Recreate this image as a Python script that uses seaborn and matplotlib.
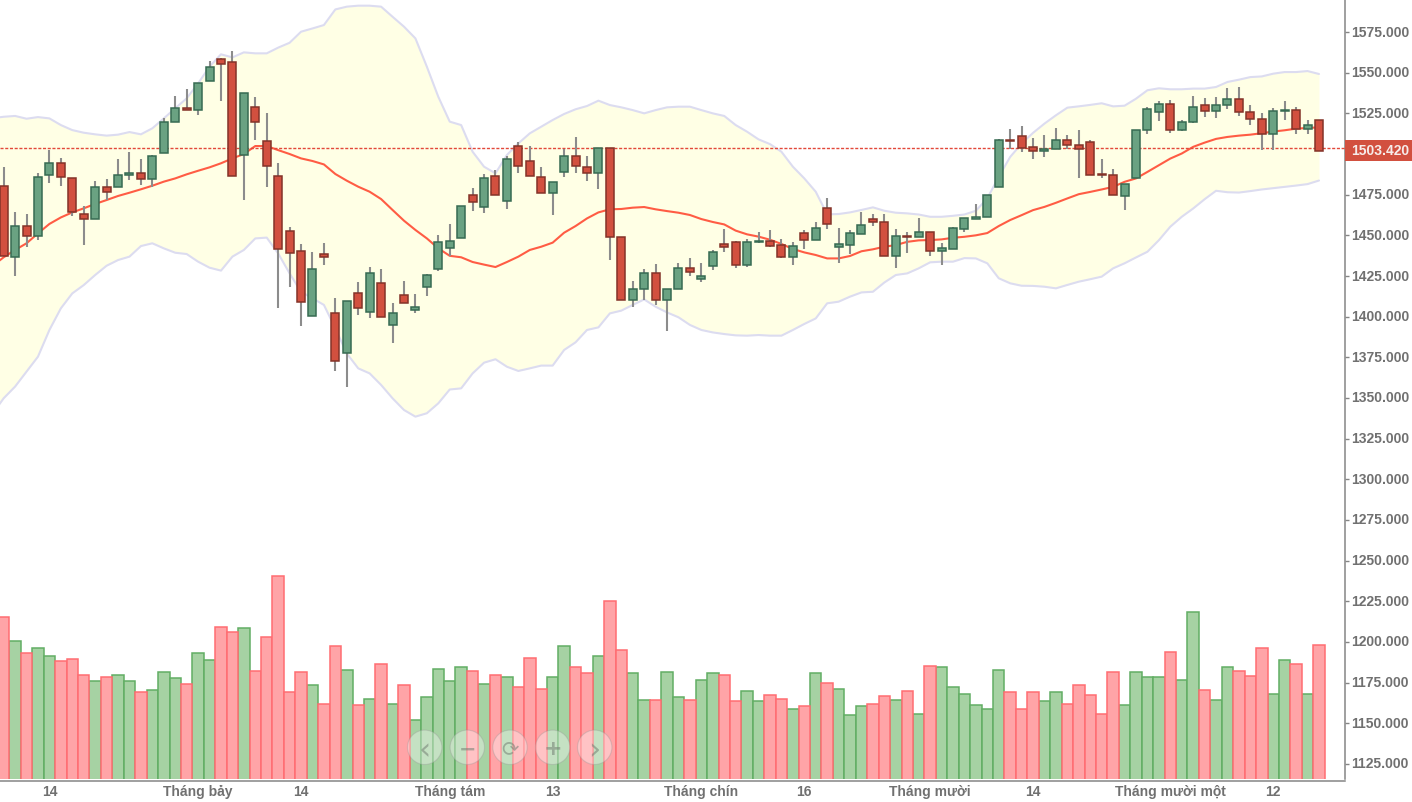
import matplotlib
matplotlib.use("Agg")
import matplotlib.pyplot as plt
from matplotlib.patches import Circle, Rectangle
from matplotlib.transforms import ScaledTranslation
import numpy as np
import pandas as pd
import seaborn as sns

opens = [1480.5, 1436.7, 1455.9, 1449.8, 1487.3, 1494.3, 1485.0, 1462.9, 1460.2, 1479.7,
         1479.5, 1487.3, 1488.1, 1484.8, 1500.4, 1519.5, 1528.3, 1527.3, 1544.9, 1558.2,
         1556.6, 1499.6, 1528.9, 1508.0, 1486.7, 1452.9, 1440.6, 1400.6, 1438.3, 1402.0,
         1377.4, 1414.3, 1402.8, 1420.5, 1395.1, 1413.5, 1404.1, 1418.2, 1429.1, 1442.0,
         1448.1, 1475.0, 1467.2, 1486.7, 1471.1, 1505.1, 1495.9, 1485.8, 1475.8, 1488.7,
         1499.0, 1492.0, 1488.1, 1503.5, 1449.0, 1410.4, 1416.8, 1426.6, 1410.4, 1416.8,
         1429.7, 1423.3, 1431.1, 1444.5, 1445.9, 1431.9, 1445.7, 1446.7, 1443.8, 1436.5,
         1451.4, 1447.1, 1466.6, 1442.6, 1444.2, 1451.0, 1459.8, 1458.2, 1437.3, 1449.7,
         1448.7, 1452.0, 1440.3, 1441.8, 1454.0, 1460.2, 1461.2, 1479.6, 1508.9, 1511.1,
         1504.2, 1501.9, 1503.1, 1508.7, 1505.6, 1507.2, 1487.6, 1487.2, 1474.1, 1485.5,
         1514.8, 1525.6, 1531.0, 1514.8, 1519.5, 1530.3, 1526.3, 1530.1, 1534.0, 1525.6,
         1521.8, 1512.6, 1526.3, 1527.3, 1515.6, 1520.9]
closes = [1437.3, 1455.9, 1449.6, 1485.8, 1494.3, 1485.8, 1464.1, 1460.2, 1479.7, 1476.4,
          1487.3, 1488.3, 1484.8, 1499.0, 1519.7, 1528.1, 1527.3, 1543.4, 1553.5, 1555.5,
          1486.7, 1537.3, 1519.5, 1492.8, 1441.4, 1438.9, 1408.8, 1429.1, 1436.5, 1372.9,
          1409.6, 1405.1, 1426.6, 1399.8, 1402.0, 1408.2, 1406.1, 1425.8, 1445.9, 1446.7,
          1468.2, 1470.3, 1485.0, 1475.0, 1496.7, 1492.8, 1486.5, 1475.8, 1482.8, 1499.0,
          1492.6, 1488.1, 1503.5, 1449.0, 1410.4, 1416.8, 1426.6, 1410.4, 1416.8, 1429.7,
          1427.2, 1425.2, 1439.7, 1442.6, 1431.9, 1445.9, 1446.7, 1443.4, 1436.5, 1443.6,
          1447.1, 1454.5, 1457.2, 1444.5, 1451.2, 1456.5, 1458.0, 1437.3, 1449.7, 1448.7,
          1452.2, 1440.3, 1442.2, 1454.2, 1460.4, 1461.2, 1475.1, 1508.9, 1507.9, 1504.0,
          1501.9, 1503.3, 1508.9, 1505.6, 1503.3, 1487.2, 1487.2, 1474.9, 1481.3, 1515.0,
          1527.9, 1531.0, 1514.8, 1519.5, 1528.7, 1526.3, 1530.1, 1534.0, 1525.6, 1521.8,
          1512.6, 1526.5, 1527.3, 1515.4, 1518.1, 1501.9]
highs = [1492.2, 1464.5, 1462.9, 1488.1, 1502.4, 1497.3, 1485.0, 1468.2, 1483.6, 1484.4,
         1496.7, 1501.2, 1496.7, 1499.6, 1521.9, 1535.9, 1539.8, 1543.4, 1557.4, 1558.8,
         1563.5, 1537.3, 1535.2, 1525.0, 1494.3, 1455.3, 1444.5, 1439.9, 1445.0, 1411.3,
         1409.6, 1421.5, 1430.7, 1429.0, 1408.2, 1422.1, 1413.7, 1426.0, 1450.0, 1456.8,
         1468.2, 1479.1, 1487.5, 1490.1, 1499.0, 1507.6, 1505.1, 1492.2, 1482.8, 1502.9,
         1510.6, 1499.0, 1503.5, 1503.5, 1449.0, 1422.1, 1429.1, 1432.4, 1416.8, 1432.8,
         1436.2, 1432.9, 1440.8, 1453.9, 1446.7, 1447.5, 1452.2, 1453.3, 1447.7, 1446.1,
         1453.1, 1458.4, 1473.1, 1454.7, 1453.3, 1464.5, 1462.9, 1463.1, 1453.6, 1452.2,
         1460.8, 1452.2, 1445.4, 1455.3, 1460.8, 1469.2, 1475.1, 1509.5, 1515.6, 1517.3,
         1509.9, 1511.5, 1515.8, 1511.9, 1515.0, 1508.9, 1496.8, 1490.5, 1481.3, 1515.0,
         1529.0, 1532.6, 1533.4, 1521.1, 1535.9, 1534.2, 1535.0, 1540.4, 1541.2, 1530.3,
         1525.2, 1528.3, 1532.8, 1528.9, 1521.1, 1520.9]
lows = [1437.0, 1425.0, 1442.6, 1447.1, 1482.4, 1480.3, 1461.9, 1444.0, 1460.2, 1471.7,
        1479.5, 1484.0, 1480.9, 1479.5, 1500.4, 1519.5, 1527.0, 1523.8, 1544.9, 1532.6,
        1486.7, 1471.7, 1508.6, 1479.5, 1405.1, 1418.0, 1394.2, 1400.6, 1431.7, 1366.6,
        1356.5, 1401.0, 1398.9, 1399.7, 1383.6, 1408.2, 1402.0, 1412.7, 1428.0, 1437.5,
        1448.1, 1464.9, 1463.9, 1474.8, 1466.4, 1488.5, 1486.5, 1475.8, 1462.5, 1486.0,
        1488.1, 1483.2, 1478.7, 1434.8, 1410.4, 1405.7, 1410.4, 1407.2, 1391.2, 1416.8,
        1424.9, 1421.5, 1428.7, 1439.9, 1430.1, 1430.3, 1445.5, 1443.0, 1435.8, 1431.7,
        1441.6, 1447.1, 1453.9, 1432.8, 1438.5, 1450.8, 1455.7, 1437.3, 1429.7, 1439.3,
        1448.7, 1437.3, 1431.7, 1442.0, 1452.2, 1459.8, 1461.2, 1479.6, 1502.9, 1501.1,
        1497.0, 1498.2, 1502.9, 1503.1, 1485.3, 1487.2, 1485.5, 1474.9, 1465.5, 1485.5,
        1512.5, 1520.0, 1513.2, 1514.0, 1518.9, 1523.0, 1522.4, 1527.7, 1523.2, 1517.9,
        1502.7, 1502.7, 1520.7, 1512.6, 1512.4, 1501.9]

volume_tops = [1215.3, 1200.7, 1192.9, 1196.0, 1191.5, 1188.4, 1189.2, 1179.7, 1176.0, 1178.3,
               1179.7, 1175.8, 1169.0, 1170.5, 1181.2, 1177.5, 1174.4, 1192.9, 1189.0, 1209.2,
               1206.1, 1208.3, 1182.2, 1203.0, 1240.8, 1169.0, 1181.2, 1173.5, 1162.0, 1197.6,
               1182.8, 1161.4, 1165.1, 1186.7, 1162.0, 1173.5, 1152.0, 1166.0, 1183.6, 1175.8,
               1184.5, 1182.2, 1174.4, 1179.7, 1178.3, 1172.1, 1189.8, 1171.3, 1178.3, 1197.6,
               1184.5, 1180.6, 1191.5, 1225.4, 1195.2, 1180.6, 1164.3, 1164.3, 1181.2, 1166.0,
               1164.3, 1176.6, 1180.6, 1179.7, 1163.7, 1169.6, 1163.7, 1167.4, 1165.1, 1158.9,
               1160.6, 1180.6, 1175.0, 1171.3, 1155.0, 1160.6, 1162.0, 1166.6, 1164.3, 1169.6,
               1155.8, 1185.3, 1184.5, 1172.1, 1168.2, 1161.2, 1158.9, 1182.8, 1169.0, 1158.9,
               1169.0, 1163.7, 1169.0, 1162.0, 1173.5, 1167.4, 1155.8, 1181.2, 1161.2, 1181.2,
               1178.3, 1178.3, 1193.7, 1176.6, 1218.4, 1170.5, 1164.3, 1184.5, 1182.0, 1178.9,
               1196.0, 1168.2, 1189.0, 1186.7, 1168.2, 1198.2]

# band and average start one session before the first visible candle
band_upper = [1522.0, 1522.9, 1523.4, 1521.7, 1522.7, 1521.9, 1517.8, 1514.7, 1513.1, 1512.1,
              1511.3, 1511.9, 1513.5, 1512.1, 1515.8, 1521.9, 1528.1, 1534.2, 1543.4, 1553.7,
              1561.3, 1559.4, 1562.5, 1561.9, 1561.9, 1565.4, 1568.4, 1575.2, 1577.2, 1579.3,
              1588.9, 1590.6, 1591.2, 1591.2, 1590.6, 1584.4, 1578.3, 1571.1, 1553.7, 1535.2,
              1519.9, 1517.8, 1501.4, 1492.2, 1488.1, 1499.4, 1506.5, 1512.7, 1516.8, 1520.9,
              1524.6, 1527.5, 1529.5, 1532.8, 1530.1, 1528.7, 1527.0, 1525.0, 1527.0, 1528.7,
              1529.1, 1529.1, 1527.0, 1525.0, 1523.4, 1517.8, 1513.7, 1509.0, 1506.1, 1501.4,
              1492.2, 1485.0, 1476.8, 1462.9, 1463.1, 1464.1, 1465.6, 1467.2, 1465.1, 1463.9,
              1463.5, 1462.8, 1461.4, 1461.4, 1462.0, 1462.8, 1465.1, 1472.7, 1486.0, 1498.2,
              1506.4, 1513.0, 1518.7, 1523.8, 1528.5, 1529.3, 1530.2, 1531.2, 1529.3, 1529.7,
              1534.0, 1539.2, 1540.4, 1539.8, 1539.8, 1540.2, 1540.2, 1541.2, 1544.3, 1545.7,
              1547.3, 1547.7, 1549.4, 1550.4, 1550.4, 1551.0, 1549.2]
band_lower = [1340.0, 1349.8, 1357.0, 1366.2, 1375.4, 1391.8, 1405.1, 1414.3, 1419.4, 1425.6,
              1431.3, 1434.8, 1436.9, 1443.4, 1445.1, 1442.0, 1439.3, 1438.5, 1433.8, 1430.1,
              1428.3, 1436.9, 1441.0, 1448.1, 1448.6, 1438.9, 1426.6, 1415.3, 1411.3, 1407.2,
              1392.8, 1377.4, 1368.2, 1365.1, 1358.0, 1349.8, 1342.6, 1338.5, 1340.6, 1346.7,
              1355.2, 1355.9, 1365.1, 1371.7, 1373.8, 1369.2, 1366.6, 1368.2, 1369.9, 1369.9,
              1379.5, 1384.2, 1391.8, 1393.4, 1402.0, 1403.7, 1407.2, 1410.6, 1406.1, 1402.6,
              1399.6, 1394.9, 1391.8, 1390.3, 1389.3, 1388.5, 1388.3, 1388.7, 1388.3, 1388.3,
              1391.8, 1395.5, 1398.9, 1408.2, 1409.2, 1412.3, 1414.9, 1415.3, 1421.0, 1425.6,
              1426.6, 1429.7, 1433.4, 1433.8, 1433.8, 1436.0, 1435.8, 1432.8, 1423.6, 1420.5,
              1419.0, 1418.9, 1418.4, 1417.4, 1419.5, 1421.5, 1423.0, 1424.6, 1429.7, 1432.8,
              1436.4, 1439.9, 1447.0, 1455.3, 1461.4, 1466.5, 1472.2, 1477.4, 1476.5, 1476.3,
              1477.2, 1478.2, 1479.0, 1479.8, 1480.6, 1481.5, 1483.7]
moving_avg = [1431.0, 1436.5, 1441.0, 1445.1, 1451.2, 1457.0, 1461.0, 1464.1, 1466.6, 1469.3,
              1471.7, 1474.2, 1476.2, 1478.3, 1480.5, 1483.0, 1485.0, 1487.5, 1489.7, 1491.8,
              1494.3, 1497.3, 1500.0, 1504.9, 1504.9, 1502.4, 1500.0, 1497.3, 1495.7, 1493.6,
              1487.7, 1483.6, 1479.9, 1476.8, 1472.3, 1465.6, 1459.0, 1453.3, 1448.1, 1442.0,
              1437.4, 1436.5, 1433.6, 1432.0, 1430.5, 1433.6, 1436.9, 1441.0, 1443.0, 1445.5,
              1451.6, 1455.7, 1460.4, 1464.1, 1466.0, 1466.2, 1467.0, 1467.4, 1466.0, 1464.9,
              1463.9, 1462.5, 1460.0, 1458.2, 1456.7, 1452.9, 1450.6, 1449.2, 1447.3, 1444.7,
              1441.6, 1439.5, 1437.9, 1435.8, 1435.8, 1437.3, 1440.2, 1441.4, 1443.0, 1444.0,
              1446.0, 1446.9, 1447.1, 1447.5, 1448.5, 1449.1, 1450.0, 1451.4, 1455.7, 1459.4,
              1462.4, 1465.5, 1467.5, 1470.0, 1472.7, 1475.3, 1476.7, 1478.2, 1479.8, 1482.9,
              1485.0, 1489.0, 1493.1, 1497.2, 1500.3, 1504.4, 1507.0, 1509.3, 1510.5, 1511.3,
              1511.9, 1512.8, 1513.8, 1514.6, 1515.6, 1516.0, 1516.4]

last_price = 1503.42
# the 1500 label sits under the last price tag in the original
price_ticks = [v for v in range(1125, 1576, 25) if v != 1500]
date_ticks = [4, 17, 26, 39, 48, 61, 70, 81, 90, 102, 111]
date_labels = ["14", "Tháng bảy", "14", "Tháng tám", "13", "Tháng chín", "16",
               "Tháng mười", "14", "Tháng mười một", "12"]

sns.set_theme(style="white")
plt.rcParams["font.family"] = ["Liberation Sans", "DejaVu Sans"]

W, H = 1412, 802
TEXT = "#707070"
AXIS = "#858585"
UP_FILL, UP_EDGE = "#6aa282", "#376b52"
DOWN_FILL, DOWN_EDGE = "#d2503f", "#843328"

df = pd.DataFrame({"open": opens, "high": highs, "low": lows, "close": closes, "volume": volume_tops})
df["i"] = np.arange(len(df))
df["up"] = df["close"] >= df["open"]
band = pd.DataFrame({"i": np.arange(-1, len(df)), "upper": band_upper, "lower": band_lower, "avg": moving_avg})

fig = plt.figure(figsize=(W / 100, H / 100), dpi=100)
ax = fig.add_axes([0, 1 - 779 / H, 1344.5 / W, 779 / H])

# volume, bars run down past the axis bottom and get clipped
for is_up, fill, edge in [(True, "#a6d2a3", "#62ae64"), (False, "#ffa4a7", "#ff6d72")]:
    sub = df[df["up"] == is_up]
    sns.barplot(data=sub, x="i", y="volume", native_scale=True, width=1, color=fill, saturation=1,
                edgecolor=edge, linewidth=1.1, errorbar=None, ax=ax, zorder=2)

# bollinger band
ax.fill_between(band["i"], band["lower"], band["upper"], color="#ffffe5", lw=0, zorder=1)
sns.lineplot(data=band, x="i", y="upper", color="#dcdcf0", lw=1.5, ax=ax, zorder=1.5)
sns.lineplot(data=band, x="i", y="lower", color="#dcdcf0", lw=1.5, ax=ax, zorder=1.5)
sns.lineplot(data=band, x="i", y="avg", color="#ff5c44", lw=1.5, ax=ax, zorder=3)

ax.axhline(last_price, color="#e2483a", lw=1.0, ls=(0, (2.2, 1.2)), zorder=3.5)

# candles
ax.vlines(df["i"], df["low"], df["high"], color="#8c8c8c", lw=1.5, zorder=4)
body_low = df[["open", "close"]].min(axis=1)
body_size = (df["open"] - df["close"]).abs()
ax.bar(df["i"], body_size, bottom=body_low, width=0.7,
       color=[UP_FILL if u else DOWN_FILL for u in df["up"]],
       edgecolor=[UP_EDGE if u else DOWN_EDGE for u in df["up"]], linewidth=1.1, zorder=5)

# set_position resets the ticks, so it has to come before the tick setup
sns.despine(ax=ax, left=True, top=True, right=False, bottom=False)
ax.spines["right"].set_color(AXIS)
ax.spines["bottom"].set_color(AXIS)
ax.spines["right"].set_linewidth(1.1)
ax.spines["bottom"].set_linewidth(1.1)
ax.spines["bottom"].set_position(("outward", 1.2))

ax.set_xlim(-0.32, 117.23)
ax.set_ylim(1115.7, 1594.7)
ax.set_xlabel("")
ax.set_ylabel("")
ax.set_xticks(date_ticks)
ax.set_xticklabels(date_labels)
ax.yaxis.tick_right()
ax.set_yticks(price_ticks)
ax.set_yticklabels([f"{v}.000" for v in price_ticks], va="center_baseline")
ax.tick_params(axis="x", length=2.4, width=1, color=AXIS, labelcolor=TEXT, labelsize=10, pad=1)
ax.tick_params(axis="y", length=3, width=1, color=AXIS, labelcolor=TEXT, labelsize=10, pad=1.5)
for lab in ax.get_xticklabels() + ax.get_yticklabels():
    lab.set_fontweight("bold")
for lab in ax.get_yticklabels():
    lab.set_transform(lab.get_transform() + ScaledTranslation(0, 0.7 / 72, fig.dpi_scale_trans))

# last price tag
fig.add_artist(Rectangle((1344.5 / W, 1 - 160.5 / H), 67.5 / W, 20.5 / H, transform=fig.transFigure,
                         fc="#d2503f", ec="none"))
fig.text(1380.5 / W, 1 - 149.5 / H, f"{last_price:.3f}", color="#f6ecea", fontsize=10, fontweight="bold",
         ha="center", va="center_baseline")

# navigation buttons
for cx, glyph, size, weight in zip([424.7, 467.3, 510, 552.7, 594.7], ["‹", "−", "⟳", "+", "›"],
                                   [22, 15, 15, 16, 22], ["normal", "bold", "normal", "bold", "normal"]):
    fig.add_artist(Circle((cx, H - 747.3), 17.2, transform=None, fc=(1, 1, 1, 0.35),
                          ec=(0.6, 0.6, 0.6, 0.35), lw=0.8))
    fig.text(cx / W, 1 - 747.3 / H, glyph, color=(0.45, 0.5, 0.45, 0.55), fontsize=size, ha="center",
             va="center_baseline", family=["DejaVu Sans"], fontweight=weight)

fig.savefig("out.png", dpi=100)
